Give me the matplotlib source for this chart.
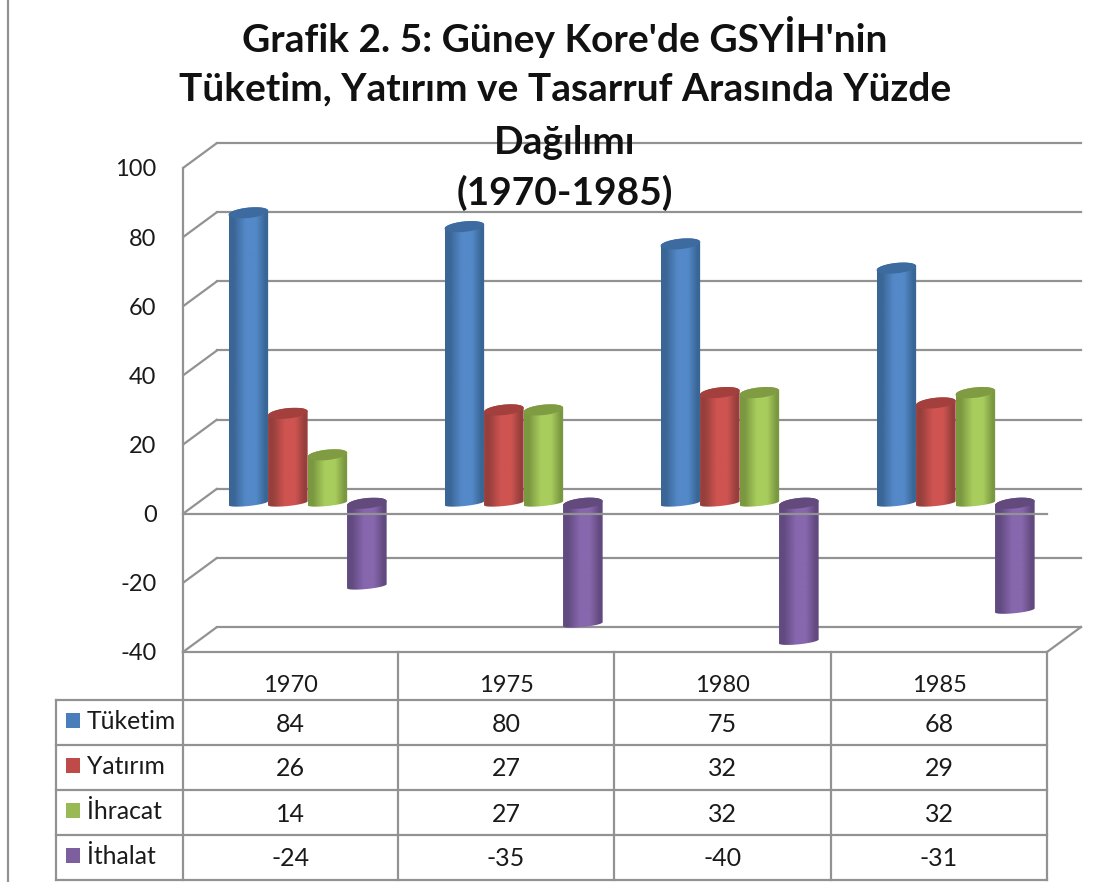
import numpy as np
import matplotlib
matplotlib.use("Agg")
import matplotlib.pyplot as plt
from matplotlib.path import Path
from matplotlib.patches import PathPatch, Rectangle
from matplotlib.colors import LinearSegmentedColormap

W, H = 1103, 882

years = ["1970", "1975", "1980", "1985"]
series_names = ["Tüketim", "Yatırım", "İhracat", "İthalat"]
tuketim = [84, 80, 75, 68]
yatirim = [26, 27, 32, 29]
ihracat = [14, 27, 32, 32]
ithalat = [-24, -35, -40, -31]
y_ticks = [-40, -20, 0, 20, 40, 60, 80, 100]
title_lines = ["Grafik 2. 5: Güney Kore'de GSYİH'nin",
               "Tüketim, Yatırım ve Tasarruf Arasında Yüzde",
               "Dağılımı", "(1970-1985)"]
all_series = [tuketim, yatirim, ihracat, ithalat]

legend_colors = ["#4a7ebb", "#be4b48", "#98b954", "#7d5fa0"]
edge_colors = ["#3a6696", "#973f3c", "#7b9840", "#614a80"]
mid_colors = ["#5489c9", "#cf5451", "#a9cd5d", "#8767ad"]
top_colors = ["#3d6a9f", "#a33f3c", "#7f9c42", "#624a7c"]

plt.rcParams["font.family"] = ["Lato", "DejaVu Sans"]
plt.rcParams["axes.unicode_minus"] = False
GRID = "#929292"
LW = 1.6
TEXT = "#1a1a1a"

fig = plt.figure(figsize=(W / 100, H / 100), dpi=100, facecolor="white")

L, R, T, B = 183, 1047, 168, 652
ax = fig.add_axes([L / W, 1 - B / H, (R - L) / W, (B - T) / H])
ax.set_xlim(0, len(years))
ax.set_ylim(-40, 100)
ax.patch.set_alpha(0)
for s in ax.spines.values():
    s.set_visible(False)
ax.set_xticks([])
ax.set_yticks(y_ticks)
ax.tick_params(axis="y", length=0, pad=19, labelsize=17, labelcolor=TEXT)

ux = (R - L) / len(years)   # px per category
uy = (B - T) / 140          # px per value unit
back_dx, back_dy = 34 / ux, 25 / uy

# walls and gridlines
for v in y_ticks:
    ax.plot([0, back_dx], [v, v + back_dy], color=GRID, lw=LW, clip_on=False, zorder=1,
            solid_capstyle="round")
    ax.plot([back_dx, 4 + back_dx], [v + back_dy, v + back_dy], color=GRID, lw=LW,
            clip_on=False, zorder=1)
ax.plot([0, 0], [-40, 100], color=GRID, lw=LW, clip_on=False, zorder=1)
ax.plot([0, 4], [-40, -40], color=GRID, lw=LW, clip_on=False, zorder=1)
ax.plot([4, 4 + back_dx], [-40, -40 + back_dy], color=GRID, lw=LW, clip_on=False, zorder=1)

# cylinders
bar_w = 39.6 / ux
bar_dx, bar_dy = 16.6 / ux, 10.5 / uy
rx = bar_w / 2
ry = 5.2 / uy
ry_bottom = 2.8 / uy
tilt = 2.0 / uy
tt = np.linspace(0, 2 * np.pi, 73)


def ell(cx, cy, t, r=ry):
    return cx + rx * np.cos(t), cy + bar_dy + r * np.sin(t) + tilt * np.cos(t)


def draw_cyl(cx, v, k, z):
    lo = np.linspace(np.pi, 2 * np.pi, 37)
    hi = np.linspace(0, np.pi, 37)
    if v >= 0:
        bx, by = ell(cx, 0, lo, ry_bottom)
        ux_, uy_ = ell(cx, v, hi)
    else:
        bx, by = ell(cx, v, lo, ry_bottom)
        ux_, uy_ = ell(cx, 0, hi)
    verts = np.column_stack([np.r_[bx, ux_], np.r_[by, uy_]])
    body = PathPatch(Path(verts), transform=ax.transData, fc="none", ec="none", clip_on=False)
    ax.add_patch(body)
    cmap = LinearSegmentedColormap.from_list(
        "c", [(0, edge_colors[k]), (0.12, edge_colors[k]), (0.42, mid_colors[k]),
              (0.68, mid_colors[k]), (0.92, edge_colors[k]), (1, edge_colors[k])])
    grad = np.linspace(0, 1, 80).reshape(1, -1)
    ymin, ymax = verts[:, 1].min(), verts[:, 1].max()
    im = ax.imshow(grad, cmap=cmap, extent=[cx - rx, cx + rx, ymin, ymax], aspect="auto",
                   zorder=z, interpolation="bilinear")
    im.set_clip_path(body)
    top_v = max(v, 0)
    ax.fill(*ell(cx, top_v, tt), color=top_colors[k], lw=0, zorder=z + 0.1)


for i in range(len(years)):
    for k, vals in enumerate(all_series):
        cx = i + 0.5 + (k - 1.5) * (39.5 / ux) + bar_dx
        draw_cyl(cx, vals[i], k, 2 + k * 0.2)

ax.set_xlim(0, len(years))
ax.set_ylim(-40, 100)

# front zero line, drawn over the cylinders
ax.plot([0, 4], [0, 0], color=GRID, lw=LW, clip_on=False, zorder=4)

# overlay in pixel space for the data table, title and frame
ov = fig.add_axes([0, 0, 1, 1])
ov.set_xlim(0, W)
ov.set_ylim(H, 0)
ov.axis("off")
ov.patch.set_alpha(0)

col_x = [183, 398, 614, 831, 1047]
row_y = [700, 745, 790, 835, 880]
leg_l = 56
for x in col_x:
    ov.plot([x, x], [B, row_y[-1]], color=GRID, lw=LW, solid_capstyle="projecting")
for y in row_y:
    ov.plot([leg_l, col_x[-1]], [y, y], color=GRID, lw=LW, solid_capstyle="projecting")
ov.plot([leg_l, leg_l], [row_y[0], row_y[-1]], color=GRID, lw=LW, solid_capstyle="projecting")
ov.plot([8, 8], [0, H], color=GRID, lw=LW)

for i, yr in enumerate(years):
    xc = (col_x[i] + col_x[i + 1]) / 2
    ov.text(xc, 686, yr, ha="center", va="center", fontsize=17, color=TEXT)
    for k, vals in enumerate(all_series):
        yc = (row_y[k] + row_y[k + 1]) / 2
        ov.text(xc, yc + 1.5, str(vals[i]), ha="center", va="center", fontsize=18, color=TEXT)

for k, name in enumerate(series_names):
    yc = (row_y[k] + row_y[k + 1]) / 2
    ov.add_patch(Rectangle((66, yc - 9.5), 14, 15, fc=legend_colors[k], ec="none"))
    ov.text(87, yc - 1, name, ha="left", va="center", fontsize=17.8, color=TEXT)

for line, y in zip(title_lines, [37, 89, 143, 193]):
    ov.text(565, y, line, ha="center", va="center", fontsize=28, fontweight="bold", color="#111111")

fig.savefig("out.png", dpi=100, facecolor="white")
